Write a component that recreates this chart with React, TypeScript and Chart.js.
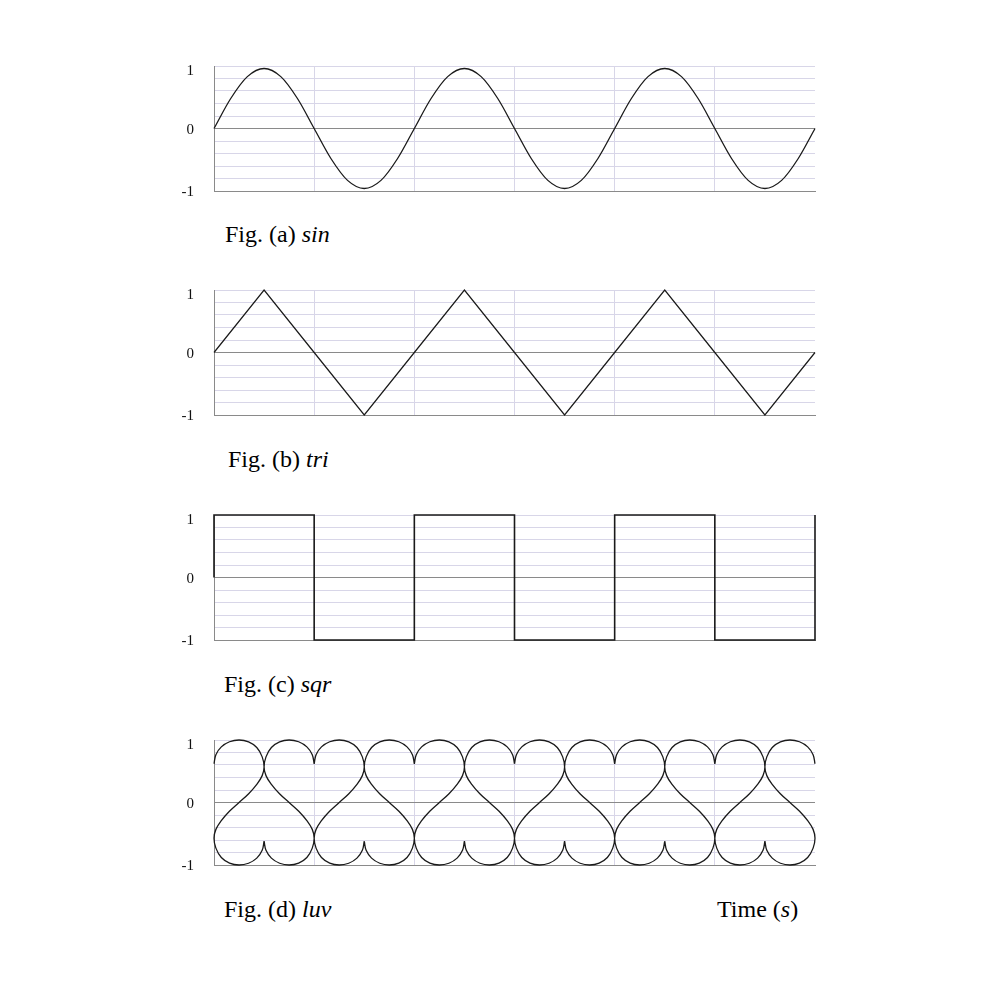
import React, { useEffect, useRef } from "react";
import { Chart, registerables } from "chart.js";

Chart.register(...registerables);

// ---- data ----
const X_MIN = 0;
const X_MAX = 6;
const Y_TICK_VALUES = [-1, 0, 1];
const Y_TICK_LABELS = ["-1", "0", "1"];

const SIN_X = [
  0, 0.167, 0.333, 0.5, 0.667, 0.833, 1, 1.167, 1.333, 1.5, 1.667, 1.833,
  2, 2.167, 2.333, 2.5, 2.667, 2.833, 3, 3.167, 3.333, 3.5, 3.667, 3.833,
  4, 4.167, 4.333, 4.5, 4.667, 4.833, 5, 5.167, 5.333, 5.5, 5.667, 5.833, 6,
];
const SIN_Y = [
  0, 0.48, 0.83, 0.96, 0.83, 0.48, 0, -0.48, -0.83, -0.96, -0.83, -0.48,
  0, 0.48, 0.83, 0.96, 0.83, 0.48, 0, -0.48, -0.83, -0.96, -0.83, -0.48,
  0, 0.48, 0.83, 0.96, 0.83, 0.48, 0, -0.48, -0.83, -0.96, -0.83, -0.48,
  0,
];

const TRI_X = [0, 0.5, 1, 1.5, 2, 2.5, 3, 3.5, 4, 4.5, 5, 5.5, 6];
const TRI_Y = [0, 1, 0, -1, 0, 1, 0, -1, 0, 1, 0, -1, 0];

const SQR_X = [0, 0, 1, 1, 2, 2, 3, 3, 4, 4, 5, 5, 6, 6];
const SQR_Y = [0, 1, 1, -1, -1, 1, 1, -1, -1, 1, 1, -1, -1, 1];

// one column of the "luv" wave: top lobe, S-curve, bottom lobe
const LUV_COLUMN_X = [
  0, 0.019, 0.073, 0.155, 0.25, 0.345, 0.427, 0.481, 0.5,
  0.481, 0.427, 0.346, 0.25, 0.154, 0.073, 0.019, 0,
  0.019, 0.073, 0.155, 0.25, 0.345, 0.427, 0.481, 0.5,
];
const LUV_COLUMN_Y = [
  0.62, 0.765, 0.89, 0.972, 1, 0.97, 0.88, 0.73, 0.57,
  0.43, 0.29, 0.14, 0, -0.14, -0.29, -0.43, -0.57,
  -0.73, -0.88, -0.97, -1, -0.972, -0.89, -0.765, -0.62,
];
const LUV_COLUMNS = 12;
const LUV_COLUMN_WIDTH = 0.5;

const CAPTIONS = [
  { prefix: "Fig. (a) ", name: "sin" },
  { prefix: "Fig. (b) ", name: "tri" },
  { prefix: "Fig. (c) ", name: "sqr" },
  { prefix: "Fig. (d) ", name: "luv" },
];
const AXIS_TITLE = { prefix: "Time (", unit: "s", suffix: ")" };

// ---- styles ----
const LAVENDER = "#d8d6e8";
const AXIS = "#8a8a8a";
const INK = "#1a1a1a";
const PLOT_TOPS = [66, 290, 515, 740];
const PAD = 20;
const PLOT_H = 125;
const CAPTION_POS = [
  { left: 225, baseline: 242 },
  { left: 228, baseline: 467 },
  { left: 224, baseline: 692 },
  { left: 224, baseline: 917 },
];
const TITLE_POS = { left: 717, baseline: 917 };

type P = { x: number; y: number | null };

function zip(xs: number[], ys: number[]): P[] {
  return xs.map((x, i) => ({ x, y: ys[i] }));
}

function luvPoints(): P[] {
  const pts: P[] = [];
  for (let c = 0; c < LUV_COLUMNS; c++) {
    const x0 = c * LUV_COLUMN_WIDTH;
    const mirrored = c % 2 === 1;
    for (let i = 0; i < LUV_COLUMN_X.length; i++) {
      const rx = LUV_COLUMN_X[i];
      pts.push({ x: x0 + (mirrored ? LUV_COLUMN_WIDTH - rx : rx), y: LUV_COLUMN_Y[i] });
    }
    pts.push({ x: x0 + LUV_COLUMN_WIDTH, y: null });
  }
  return pts;
}

const SERIES: { points: P[]; width: number; tension: number; mode: string }[] = [
  { points: zip(SIN_X, SIN_Y), width: 1.3, tension: 0.4, mode: "monotone" },
  { points: zip(TRI_X, TRI_Y), width: 1.2, tension: 0, mode: "default" },
  { points: zip(SQR_X, SQR_Y), width: 1.6, tension: 0, mode: "default" },
  { points: luvPoints(), width: 1.3, tension: 0.4, mode: "default" },
];

function near(a: number, b: number) {
  return Math.abs(a - b) < 1e-6;
}

// nudges the top "1" tick label down a little, as in the reference
const topLabelNudge = {
  id: "topLabelNudge",
  beforeDraw(chart: any) {
    const sc = chart.scales.y;
    if (!sc || !sc.getLabelItems) return;
    const items = sc.getLabelItems(chart.chartArea);
    for (const it of items) {
      if (it.label === Y_TICK_LABELS[2] && !it._nudged) {
        it.options.translation[1] += 4;
        it._nudged = true;
      }
    }
  },
};

function makeConfig(s: { points: P[]; width: number; tension: number; mode: string }): any {
  return {
    type: "scatter",
    data: {
      datasets: [
        {
          data: s.points,
          showLine: true,
          borderColor: INK,
          borderWidth: s.width,
          pointRadius: 0,
          pointHoverRadius: 0,
          tension: s.tension,
          cubicInterpolationMode: s.mode,
          spanGaps: false,
          fill: false,
          clip: false,
        },
      ],
    },
    plugins: [topLabelNudge],
    options: {
      animation: false,
      responsive: false,
      events: [],
      layout: { padding: { left: 150, right: 185, top: PAD, bottom: PAD } },
      plugins: { legend: { display: false }, tooltip: { enabled: false } },
      scales: {
        x: {
          type: "linear",
          min: X_MIN,
          max: X_MAX,
          ticks: { display: false, stepSize: 1, autoSkip: false },
          grid: {
            drawTicks: false,
            lineWidth: 1,
            color: (ctx: any) => {
              const v = ctx.tick ? ctx.tick.value : 0;
              return near(v, X_MIN) || near(v, X_MAX) ? "rgba(0,0,0,0)" : LAVENDER;
            },
          },
          border: { color: AXIS, width: 1 },
          afterFit: (sc: any) => {
            sc.height = 0;
            sc.paddingLeft = 0;
            sc.paddingRight = 0;
          },
        },
        y: {
          type: "linear",
          min: -1,
          max: 1,
          ticks: {
            stepSize: 0.2,
            autoSkip: false,
            padding: 20,
            labelOffset: 1.5,
            color: "#111",
            font: { family: "'Liberation Serif', 'Times New Roman', serif", size: 15 },
            callback: (v: any) => {
              const n = Number(v);
              for (let i = 0; i < Y_TICK_VALUES.length; i++) {
                if (near(n, Y_TICK_VALUES[i])) return Y_TICK_LABELS[i];
              }
              return "";
            },
          },
          grid: {
            drawTicks: false,
            lineWidth: 1,
            color: (ctx: any) => {
              const v = ctx.tick ? ctx.tick.value : 1;
              return near(v, 0) ? AXIS : LAVENDER;
            },
          },
          border: { color: AXIS, width: 1 },
          afterFit: (sc: any) => {
            sc.width = 64;
            sc.paddingTop = 0;
            sc.paddingBottom = 0;
          },
        },
      },
    },
  };
}

function WaveChart({ index }: { index: number }) {
  const ref = useRef<HTMLCanvasElement | null>(null);
  useEffect(() => {
    if (!ref.current) return;
    const chart = new Chart(ref.current, makeConfig(SERIES[index]));
    return () => chart.destroy();
  }, [index]);
  return (
    <canvas
      ref={ref}
      width={1000}
      height={PLOT_H + 2 * PAD}
      style={{
        position: "absolute",
        left: 0,
        top: PLOT_TOPS[index] - PAD,
        width: 1000,
        height: PLOT_H + 2 * PAD,
        display: "block",
      }}
    />
  );
}

const captionFont: React.CSSProperties = {
  position: "absolute",
  fontFamily: "'Liberation Serif', 'Times New Roman', serif",
  fontSize: 24,
  lineHeight: "24px",
  color: "#000",
  whiteSpace: "nowrap",
};

export default function App() {
  return (
    <div style={{ position: "absolute", left: 0, top: 0, width: 1000, height: 1000, background: "#fff" }}>
      {SERIES.map((_, i) => (
        <WaveChart key={i} index={i} />
      ))}
      {CAPTIONS.map((c, i) => (
        <div key={i} style={{ ...captionFont, left: CAPTION_POS[i].left, top: CAPTION_POS[i].baseline - 20 }}>
          {c.prefix}
          <i>{c.name}</i>
        </div>
      ))}
      <div style={{ ...captionFont, left: TITLE_POS.left, top: TITLE_POS.baseline - 20 }}>
        {AXIS_TITLE.prefix}
        <i>{AXIS_TITLE.unit}</i>
        {AXIS_TITLE.suffix}
      </div>
    </div>
  );
}
